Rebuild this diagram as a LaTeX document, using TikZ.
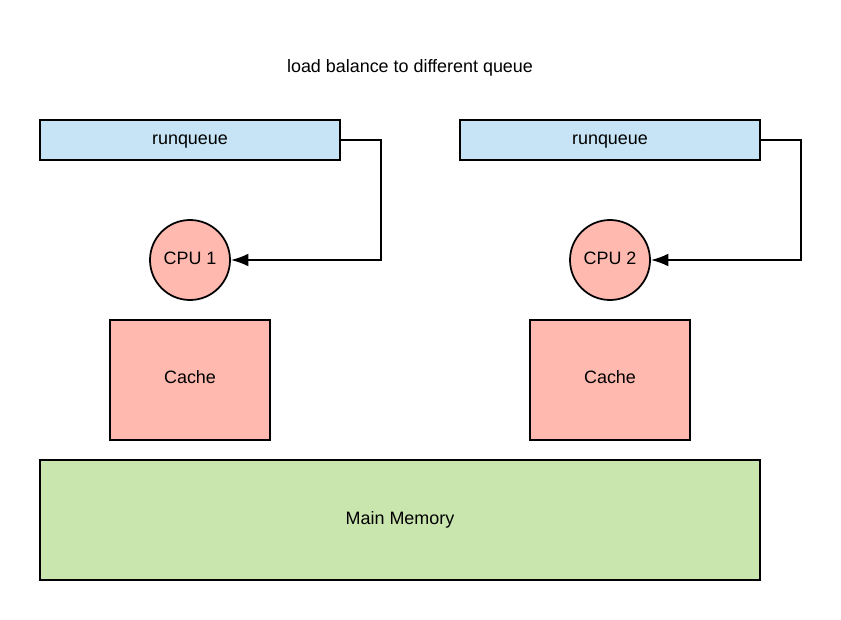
\documentclass[tikz,border=0pt]{standalone}
\usepackage{fontspec}
\setmainfont{Liberation Sans}
\definecolor{queueblue}{HTML}{C6E4F5}
\definecolor{cpured}{HTML}{FFB9AF}
\definecolor{memgreen}{HTML}{C9E6AF}
\tikzset{
  box/.style={draw=black, line width=1.5pt, inner sep=0pt},
  queuebox/.style={box, fill=queueblue, minimum width=9cm, minimum height=1.2cm},
  cpucircle/.style={box, circle, fill=cpured, minimum size=2.4cm},
  cachebox/.style={box, fill=cpured, minimum width=4.8cm, minimum height=3.6cm},
  membox/.style={box, fill=memgreen, minimum width=21.6cm, minimum height=3.6cm},
  feed/.style={line width=1.5pt, -{Latex[length=15pt,width=11pt]}}
}
\usetikzlibrary{arrows.meta}
\begin{document}
\begin{tikzpicture}[x=0.03cm, y=-0.03cm, font=\fontsize{15.3}{18}\selectfont]
  \useasboundingbox (0,0) rectangle (841,620);
  % Title
  \node (title) at (410,68) {load balance to different queue};
  % Run queues
  \node[queuebox] (rq1) at (190,140) {};
  \node at (190,142) {runqueue};
  \node[queuebox] (rq2) at (610,140) {};
  \node at (610,142) {runqueue};
  % CPUs
  \node[cpucircle] (cpu1) at (190,260) {};
  \node at (190,258) {CPU 1};
  \node[cpucircle] (cpu2) at (610,260) {};
  \node at (610,258) {CPU 2};
  % Caches
  \node[cachebox] (cache1) at (190,380) {};
  \node at (190,377) {Cache};
  \node[cachebox] (cache2) at (610,380) {};
  \node at (610,377) {Cache};
  % Main memory
  \node[membox] (mem) at (400,520) {Main Memory};
  % Feeds from queues to CPUs
  \draw[feed] (rq1.east) -- ++(40,0) |- (cpu1.east);
  \draw[feed] (rq2.east) -- ++(40,0) |- (cpu2.east);
\end{tikzpicture}
\end{document}
